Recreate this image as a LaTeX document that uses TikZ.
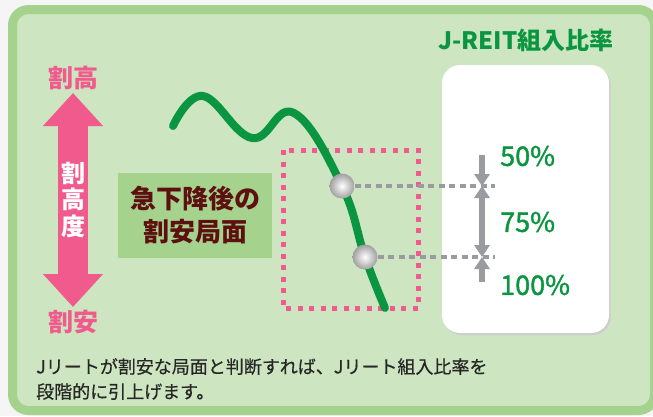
\documentclass[tikz,border=0pt]{standalone}
\usepackage{fontspec}
\setmainfont{Noto Sans CJK JP}
\newfontfamily\midfont[FakeBold=1.4]{Noto Sans CJK JP}
\newfontfamily\notefont[FakeBold=0.5]{Noto Sans CJK JP}
\usetikzlibrary{arrows.meta}
\definecolor{framegreen}{HTML}{A5D28C}
\definecolor{panelgreen}{HTML}{CDE5C0}
\definecolor{linegreen}{HTML}{0A9641}
\definecolor{hotpink}{HTML}{F05A8C}
\definecolor{darkbrown}{HTML}{5C1010}
\definecolor{arrowgray}{HTML}{9A9BA0}
\tikzset{
    silverball/.style={circle, inner sep=0pt, minimum size=25pt, shade, inner color=white, outer color=gray!75}, % 銀の玉
    pct/.style={anchor=west, inner sep=0pt, text=linegreen, font=\midfont\fontsize{27}{27}\selectfont}, % 比率の数字
    guide/.style={arrowgray, line width=3.2pt, dash pattern=on 6pt off 4.5pt}, % 灰色の破線
    gap/.style={arrowgray, line width=6.5pt, -{Triangle[width=15pt,length=12pt]}}, % 灰色の矢印
    bigtip/.style={hotpink, line width=30pt, {Triangle[width=58pt,length=33pt]}-{Triangle[width=58pt,length=33pt]}} % 割高・割安の矢印
}

\begin{document}
\begin{tikzpicture}[x=1pt, y=-1pt]
            \useasboundingbox (0,0) rectangle (653,416);
            \clip (0,0) rectangle (653,416);
            \fill[gray!8] (0,0) rectangle (653,416);
            \draw[framegreen, fill=panelgreen, line width=9pt, rounded corners=16pt] (12.5,9.5) rectangle (654.5,410.5);

            % 組入比率の白い枠
            \fill[gray!40, rounded corners=18pt] (443.5,67) rectangle (610.5,335);
            \fill[white, rounded corners=18pt] (442,65) rectangle (609,333);
            \node[text=linegreen, font=\fontsize{24}{24}\selectfont\bfseries] (title) at (526,40) {J-REIT組入比率};

            % 割高度
            \coordinate (hi) at (73,93); \coordinate (lo) at (73,307);
            \draw[bigtip] (hi) -- (lo);
            \node[text=hotpink, font=\fontsize{25}{25}\selectfont\bfseries] (high) at (73,78) {割高};
            \node[text=hotpink, font=\fontsize{25}{25}\selectfont\bfseries] (low) at (73,322) {割安};
            \node[text=white, align=center, font=\fontsize{24}{26.5}\selectfont\bfseries] (degree) at (73,200) {割\\高\\度};

            \node[fill=framegreen, minimum width=154pt, minimum height=85pt, align=center, text=darkbrown,
                  font=\fontsize{26}{33}\selectfont\bfseries] (phase) at (195,215.5) {急下降後の\\割安局面};

            \draw[hotpink, line width=5pt, dash pattern=on 5pt off 6.5pt] (283,150) rectangle (418,308);
            \draw[linegreen, line width=8pt, line cap=round] plot[smooth, tension=0.7] coordinates
                {(173,126) (203,96) (252,138) (294,113) (342,186) (365,257) (385,308)};

            % 玉と破線
            \node[silverball] (b1) at (342,186) {};
            \node[silverball] (b2) at (365,257) {};
            \coordinate (g1) at (495,186); \coordinate (g2) at (495,257);
            \draw[guide] (b1) -- (g1);
            \draw[guide] (b2) -- (g2);

            \coordinate (top) at (482,155); \coordinate (m1) at (482,186);
            \coordinate (m2) at (482,257); \coordinate (bot) at (482,282);
            \draw[gap] (top) -- (m1);
            \draw[gap, {Triangle[width=15pt,length=12pt]}-{Triangle[width=15pt,length=12pt]}] (m1) -- (m2);
            \draw[gap] (bot) -- (m2);
            \foreach \y/\n/\t in {156/a/50, 222/b/75, 285/c/100} {\node[pct] (pct\n) at (500,\y) {\t\%};}

            \node[anchor=west, align=left, inner sep=0pt, text=black!85, font=\notefont\fontsize{18}{25}\selectfont] (note) at (36,379)
                {Jリートが割安な局面と判断すれば、Jリート組入比率を\\段階的に引上げます。};
        \end{tikzpicture}
\end{document}
